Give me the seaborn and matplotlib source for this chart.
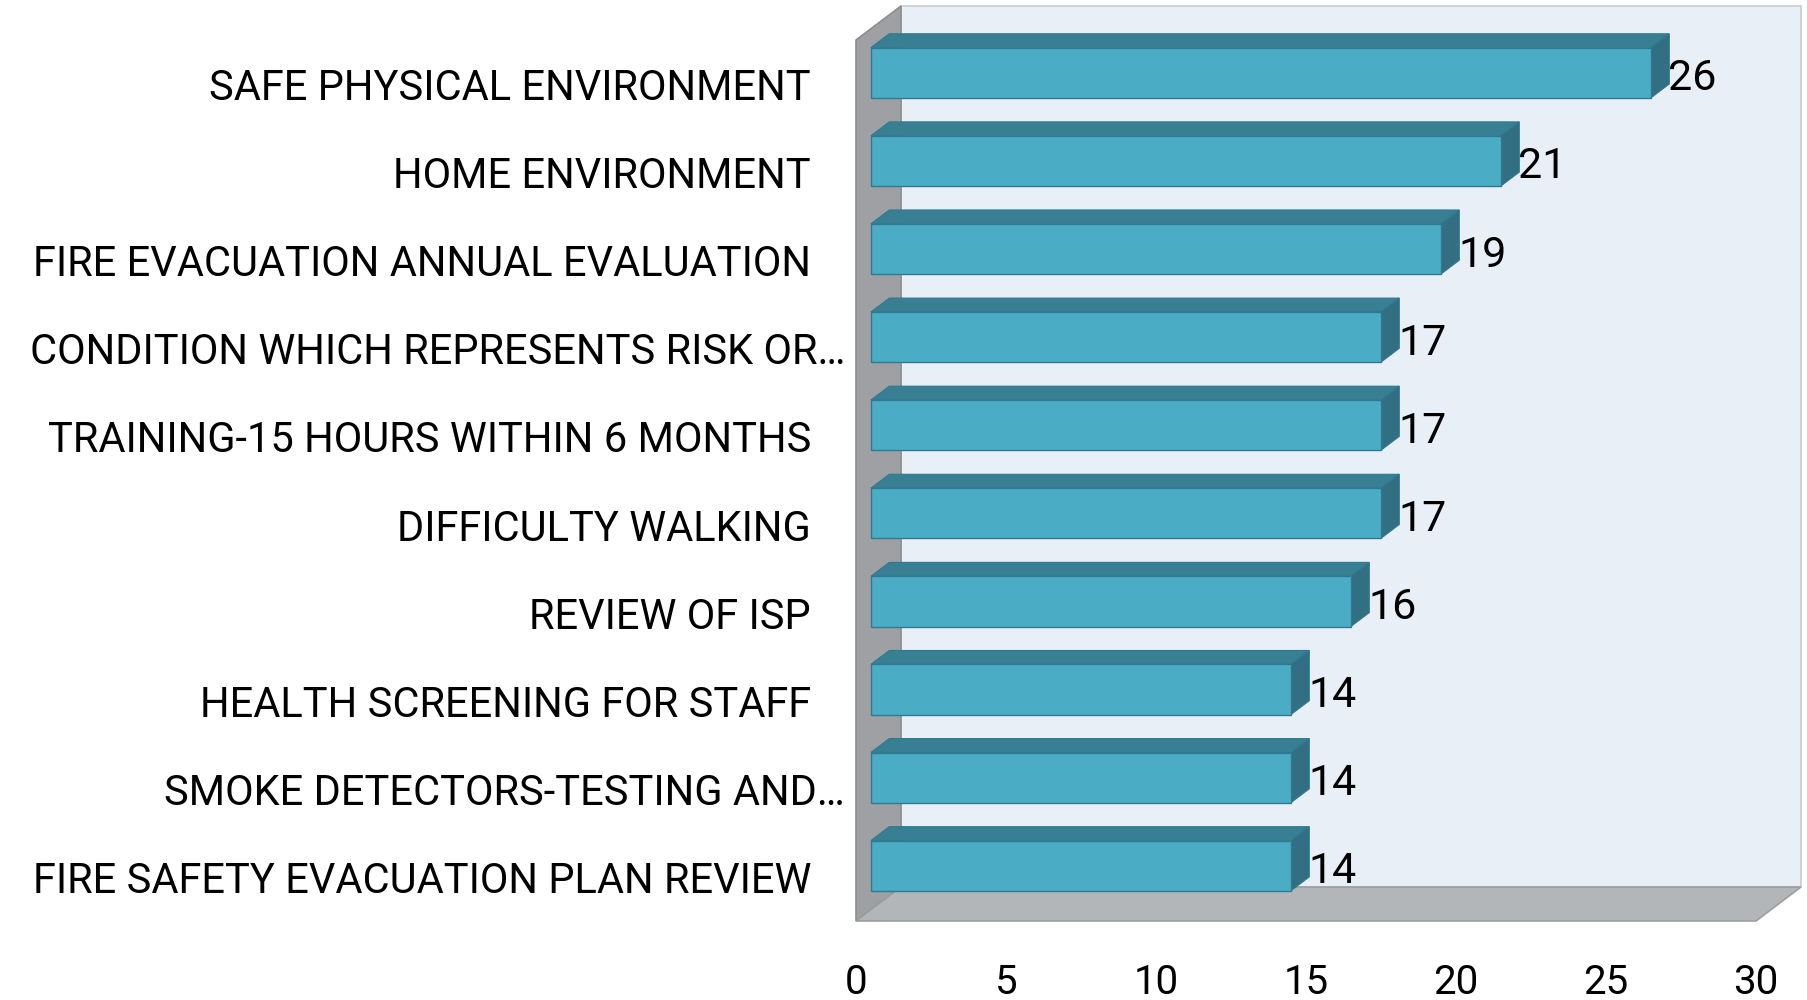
import matplotlib
matplotlib.use("Agg")
import matplotlib.pyplot as plt
import seaborn as sns
import pandas as pd
from matplotlib.patches import Polygon
from matplotlib.transforms import Affine2D, ScaledTranslation

# chart data
categories = [
    "SAFE PHYSICAL ENVIRONMENT",
    "HOME ENVIRONMENT",
    "FIRE EVACUATION ANNUAL EVALUATION",
    "CONDITION WHICH REPRESENTS RISK OR…",
    "TRAINING-15 HOURS WITHIN 6 MONTHS",
    "DIFFICULTY WALKING",
    "REVIEW OF ISP",
    "HEALTH SCREENING FOR STAFF",
    "SMOKE DETECTORS-TESTING AND…",
    "FIRE SAFETY EVACUATION PLAN REVIEW",
]
counts = [26, 21, 19, 17, 17, 17, 16, 14, 14, 14]
x_ticks = [0, 5, 10, 15, 20, 25, 30]

# colours
FRONT = "#4bacc6"
TOP = "#387f93"
SIDE = "#336f82"
EDGE = "#2f7a8f"
WALL = "#e8eff7"
SIDE_WALL = "#9fa0a4"
FLOOR = "#b3b6b9"

df = pd.DataFrame({"item": categories, "count": counts})

sns.set_theme(style="white")
plt.rcParams["font.family"] = ["Roboto", "DejaVu Sans"]
plt.rcParams["text.color"] = "black"
plt.rcParams["xtick.color"] = "black"
plt.rcParams["ytick.color"] = "black"

W, H = 1808, 1000
fig = plt.figure(figsize=(W / 100, H / 100), dpi=100)
ax_px = (856, 79, 900, 881)  # left, bottom, width, height in pixels
ax = fig.add_axes([ax_px[0] / W, ax_px[1] / H, ax_px[2] / W, ax_px[3] / H])
ax.set_facecolor("none")

sns.barplot(data=df, x="count", y="item", orient="h", color=FRONT, saturation=1,
            width=0.57, edgecolor=EDGE, linewidth=1.0, ax=ax, zorder=3)
bars = list(ax.patches)

ax.set_xlim(x_ticks[0], x_ticks[-1])
ax.set_ylim(len(categories) - 0.5, -0.5)

# pixel -> data units (depth of the 3d box, screen offset right/up)
sx = (x_ticks[-1] - x_ticks[0]) / ax_px[2]
sy = len(categories) / ax_px[3]
Dx, Dy = 45 * sx, -34 * sy
d0, d1 = 0.33, 0.74

x_lo, x_hi = x_ticks[0], x_ticks[-1]
y_top, y_bot = -0.5, len(categories) - 0.5

# back wall, side wall, floor
ax.add_patch(Polygon([(x_lo + Dx, y_top + Dy), (x_hi + Dx, y_top + Dy),
                      (x_hi + Dx, y_bot + Dy), (x_lo + Dx, y_bot + Dy)],
                     closed=True, facecolor=WALL, edgecolor="#c9cbcd", lw=1.2,
                     clip_on=False, zorder=0))
ax.add_patch(Polygon([(x_lo, y_top), (x_lo + Dx, y_top + Dy),
                      (x_lo + Dx, y_bot + Dy), (x_lo, y_bot)],
                     closed=True, facecolor=SIDE_WALL, edgecolor="#8c8d90", lw=1.2,
                     clip_on=False, zorder=1))
ax.add_patch(Polygon([(x_lo, y_bot), (x_hi, y_bot),
                      (x_hi + Dx, y_bot + Dy), (x_lo + Dx, y_bot + Dy)],
                     closed=True, facecolor=FLOOR, edgecolor="#9c9fa2", lw=1.2,
                     clip_on=False, zorder=1))

# 3d faces on the bars
shift = Affine2D().translate(d0 * Dx, d0 * Dy) + ax.transData
for bar, val in zip(bars, counts):
    bar.set_transform(shift)
    x0, y0 = bar.get_x(), bar.get_y()
    x1, y1 = x0 + bar.get_width(), y0 + bar.get_height()
    top = [(x0 + d0 * Dx, y0 + d0 * Dy), (x1 + d0 * Dx, y0 + d0 * Dy),
           (x1 + d1 * Dx, y0 + d1 * Dy), (x0 + d1 * Dx, y0 + d1 * Dy)]
    side = [(x1 + d0 * Dx, y0 + d0 * Dy), (x1 + d1 * Dx, y0 + d1 * Dy),
            (x1 + d1 * Dx, y1 + d1 * Dy), (x1 + d0 * Dx, y1 + d0 * Dy)]
    ax.add_patch(Polygon(top, closed=True, facecolor=TOP, edgecolor=EDGE, lw=0.8, zorder=2.5, clip_on=False))
    ax.add_patch(Polygon(side, closed=True, facecolor=SIDE, edgecolor=EDGE, lw=0.8, zorder=2.5, clip_on=False))
    ax.text(x1 + d1 * Dx - 0.04, (y0 + y1) / 2 + d0 * Dy + 6 * sy, f"{val}", ha="left", va="center",
            fontsize=31, color="black", zorder=4, clip_on=False)

# axes text
ax.set_xticks(x_ticks)
ax.set_xticklabels([str(t) for t in x_ticks], fontsize=29)
ax.tick_params(axis="x", length=0, pad=30)
ax.tick_params(axis="y", length=0, pad=8, labelsize=30)
ax.set_xlabel("")
ax.set_ylabel("")
for lab in ax.get_yticklabels():
    if not lab.get_text().endswith("…"):
        lab.set_transform(lab.get_transform() + ScaledTranslation(-0.34, 0, fig.dpi_scale_trans))
sns.despine(ax=ax, left=True, bottom=True)

fig.savefig("out.png", dpi=100)
